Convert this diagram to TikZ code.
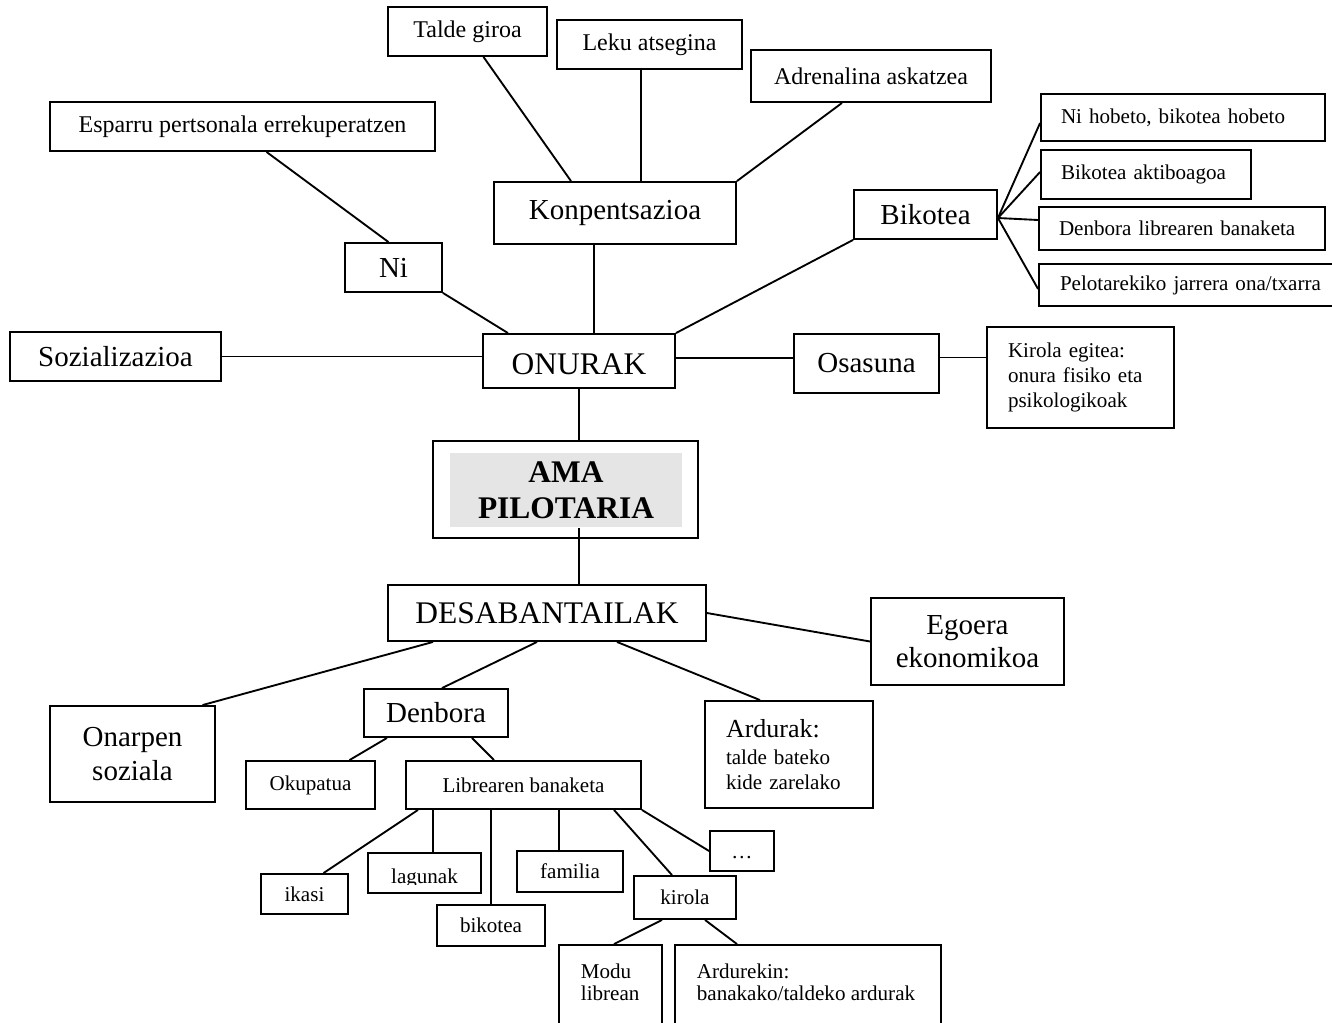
\documentclass[tikz,border=0pt]{standalone}
\usepackage{fontspec}
\setmainfont{Liberation Serif}
\usetikzlibrary{calc}

\newdimen\pxd \pxd=0.75pt

\tikzset{
  box/.style={draw, line width=1.4pt, inner sep=0pt},
  sz/.style 2 args={minimum width=#1*\pxd, minimum height=#2*\pxd},
  bigtxt/.style={font=\fontsize{21.75}{25}\selectfont, align=center},
  captxt/.style={font=\fontsize{23.6}{27}\selectfont},
  medtxt/.style={font=\fontsize{18}{21}\selectfont},
  smalltxt/.style={font=\fontsize{15.8}{18.6}\selectfont},
}

\begin{document}
\begin{tikzpicture}[x=0.75pt, y=-0.75pt, line width=1.4pt]
\useasboundingbox (0,0) rectangle (1332,1022);
\clip (0,0) rectangle (1332,1022);

% ONURAK branch
\node[box, captxt, sz={192}{54}, text height=20pt, text depth=0pt] (onurak) at (579,361) {ONURAK};
\node[box, bigtxt, sz={242}{62}] (konp) at (615,213) {Konpentsazioa};
\node[box, medtxt, sz={159}{49}] (talde) at (467.5,31.5) {Talde giroa};
\node[box, medtxt, sz={185}{49}] (leku) at (649.5,44.5) {Leku atsegina};
\node[box, medtxt, sz={240}{52}] (adren) at (871,76) {Adrenalina askatzea};
\node[box, bigtxt, sz={97}{49}] (ni) at (393.5,267.5) {Ni};
\node[box, medtxt, sz={385}{49}] (esparru) at (242.5,126.5) {Esparru pertsonala errekuperatzen};
\node[box, bigtxt, sz={211}{49}] (soz) at (115.5,356.5) {Sozializazioa};
\node[box, bigtxt, sz={145}{59}] (osasuna) at (866.5,363.5) {Osasuna};
\node[box, smalltxt, sz={187}{101}, text width=108.75pt, align=left] (kirolaeg) at (1080.5,377.5)
  {Kirola egitea:\\ onura fisiko eta\\ psikologikoak};

% Bikotea and its four boxes
\node[box, bigtxt, sz={143}{49}] (bikotea) at (925.5,214.5) {Bikotea};
\node[box, smalltxt, sz={284}{47}, text width=183pt, align=left] (nihob) at (1183,117.5) {Ni hobeto, bikotea hobeto};
\node[box, smalltxt, sz={210}{49}, text width=127.5pt, align=left] (bakt) at (1146,174.5) {Bikotea aktiboagoa};
\node[box, smalltxt, sz={286}{43}, text width=184.5pt, align=left] (dlb) at (1182,228.5) {Denbora librearen banaketa};
\node[box, smalltxt, sz={306}{42}, text width=198pt, align=left] (pelot) at (1192,285) {Pelotarekiko jarrera ona/txarra};

% centre
\node[box, sz={265}{97}] (ama) at (565.5,489.5) {};
\node[fill=black!10, inner sep=0pt, sz={232}{74}, align=center,
  font=\fontsize{23.6}{27}\selectfont\bfseries] (amaIn) at (566,490) {AMA\\PILOTARIA};

% DESABANTAILAK branch
\node[box, captxt, sz={318}{56}] (desab) at (547,613) {DESABANTAILAK};
\node[box, bigtxt, sz={193}{87}] (egoera) at (967.5,641.5) {Egoera\\ekonomikoa};
\node[box, bigtxt, sz={165}{96}] (onarpen) at (132.5,754) {Onarpen\\soziala};
\node[box, bigtxt, sz={144}{48}] (denbora) at (436,713) {Denbora};
\node[box, smalltxt, sz={168}{107}, text width=94.5pt, align=left] (ardurak) at (789,754.5)
  {{\fontsize{19.5}{22}\selectfont Ardurak:}\\[1.5pt] talde bateko\\ kide zarelako};
\node[box, smalltxt, sz={129}{48}] (okup) at (310.5,785) {Okupatua};
\node[box, smalltxt, sz={235}{48}] (libre) at (523.5,785) {Librearen banaketa};

% Librearen banaketa children
\node[box, smalltxt, sz={87}{40}] (ikasi) at (304.5,894) {ikasi};
\node[box, sz={113}{40}] (lagunak) at (424.5,873) {};
\begin{scope}
  \clip (370,855) rectangle (479,884);
  \node[smalltxt, inner sep=0pt] (lagunakT) at (424.5,878) {lagunak};
\end{scope}
\node[box, smalltxt, sz={108}{41}] (bikT) at (491,925.5) {bikotea};
\node[box, smalltxt, sz={106}{41}] (familia) at (570,871.5) {familia};
\node[box, smalltxt, sz={102}{43}] (kirola) at (685,897.5) {kirola};
\node[box, smalltxt, sz={64}{40}] (dots) at (742,851) {\vphantom{l}\ldots};
\node[box, sz={103}{115}] (modu) at (610.5,1002.5) {};
\node[box, sz={266}{115}] (ardurekin) at (808,1002.5) {};
\node[anchor=north west, align=left, inner sep=0pt, font=\fontsize{15.8}{16.5}\selectfont]
  (moduT) at (580,963) {Modu\\librean};
\node[anchor=north west, align=left, inner sep=0pt, font=\fontsize{15.8}{16.5}\selectfont]
  (ardurekinT) at (696,963) {Ardurekin:\\banakako/taldeko ardurak};

% Lines, top half
\draw ($(esparru.south)+(24,0)$) -- ($(ni.north)+(-5,0)$);
\draw ($(talde.south)+(16,0)$) -- ($(konp.north)+(-44,0)$);
\draw ($(konp.north)+(26,0)$) coordinate (lk) -- (lk |- leku.south);
\draw ($(adren.south)+(-29,0)$) -- (konp.north east);
\draw (ni.south east) -- ($(onurak.north)+(-71,0)$);
\draw ($(konp.south)+(-21,0)$) -- ($(onurak.north)+(15,0)$);
\draw (onurak.north east) -- (bikotea.south west);
\draw (soz.east) -- (soz.east -| onurak.west);
\draw ($(onurak.east)+(0,-3)$) coordinate (os1) -- (os1 -| osasuna.west);
\draw ($(osasuna.east)+(0,-6)$) coordinate (os2) -- (os2 -| kirolaeg.west);
\coordinate (bk) at ($(bikotea.east)+(0,3.5)$);
\foreach \n/\d in {nihob/5.5, bakt/-2.5, dlb/-8.5, pelot/4}
  \draw (bk) -- ($(\n.west)+(0,\d)$);
\draw (onurak.south) -- (onurak.south |- ama.north);
\draw (amaIn.south -| onurak.south) -- (desab.north -| onurak.south);

% Lines, bottom half
\draw (desab.east) -- (egoera.west);
\draw ($(desab.south)+(-114,0)$) -- ($(onarpen.north)+(70,0)$);
\draw ($(desab.south)+(-10,0)$) -- ($(denbora.north)+(6,0)$);
\draw ($(desab.south)+(70,0)$) -- ($(ardurak.north)+(-29,0)$);
\draw ($(denbora.south)+(-49,0)$) -- ($(okup.north)+(39,0)$);
\draw ($(denbora.south)+(36,0)$) -- ($(libre.north)+(-29.5,0)$);
\draw ($(libre.south)+(-105.5,0)$) -- ($(ikasi.north)+(19,0)$);
\draw ($(libre.south)+(-90.5,0)$) -- ($(lagunak.north)+(8.5,0)$);
\draw (bikT.north |- libre.south) -- (bikT.north);
\draw ($(libre.south)+(35.5,0)$) -- ($(familia.north)+(-11,0)$);
\draw ($(libre.south)+(90.5,0)$) -- ($(kirola.north)+(-13,0)$);
\draw (libre.south east) -- (dots.west);
\draw ($(kirola.south)+(-23,0)$) -- ($(modu.north)+(3.5,0)$);
\draw ($(kirola.south)+(20,0)$) -- ($(ardurekin.north)+(-71,0)$);
\end{tikzpicture}
\end{document}
